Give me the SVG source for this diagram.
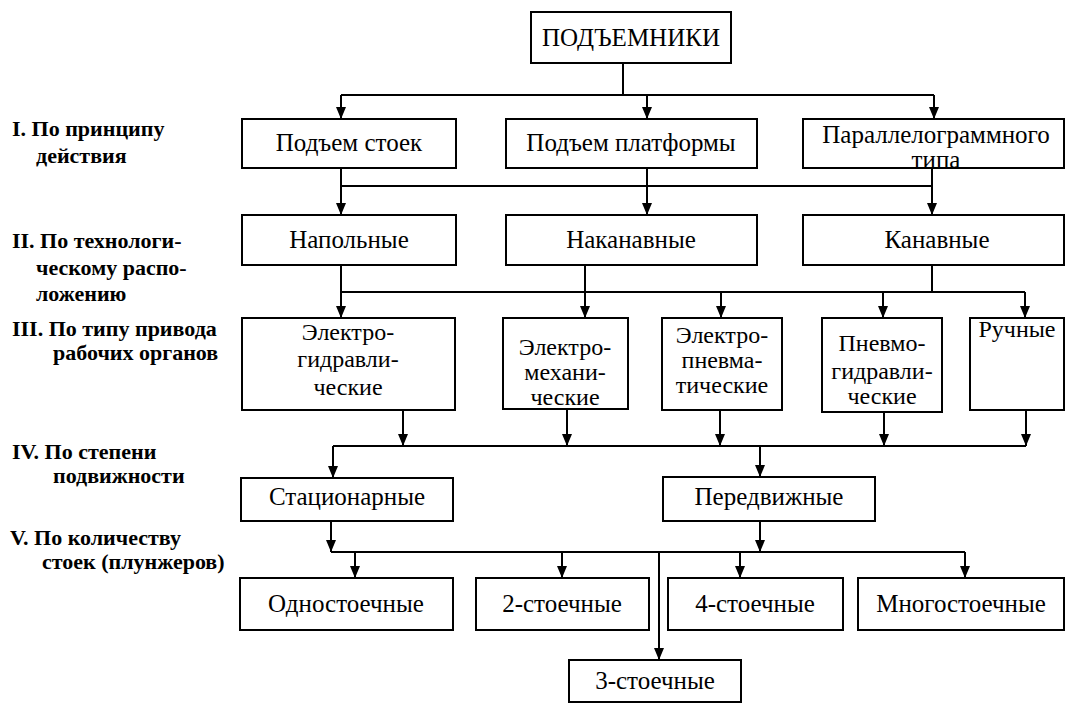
<svg xmlns="http://www.w3.org/2000/svg" width="1069" height="704" viewBox="0 0 1069 704">
<style>
.box{fill:#fff;stroke:#000;stroke-width:2}
.t{font-family:"Liberation Serif","DejaVu Serif","Times New Roman",serif;font-size:25px;fill:#000;text-anchor:middle}
.s{font-size:24px}
.lbl{font-family:"Liberation Serif","DejaVu Serif","Times New Roman",serif;font-size:22px;font-weight:bold;fill:#000}
.c{fill:none;stroke:#000;stroke-width:2}
</style>
<defs>
<marker id="ah" viewBox="0 0 12 10" refX="12" refY="5" markerWidth="12" markerHeight="10" markerUnits="userSpaceOnUse" orient="auto">
<path d="M0,0 L12,5 L0,10 Z" fill="#000"/>
</marker>
</defs>
<rect width="1069" height="704" fill="#fff"/>

<g id="labels">
<text class="lbl" x="12" y="136">I. По принципу</text>
<text class="lbl" x="36" y="163">действия</text>
<text class="lbl" x="12" y="248">II. По технологи-</text>
<text class="lbl" x="36" y="275">ческому распо-</text>
<text class="lbl" x="36" y="301">ложению</text>
<text class="lbl" x="12" y="336">III. По типу привода</text>
<text class="lbl" x="53" y="360">рабочих органов</text>
<text class="lbl" x="12" y="459">IV. По степени</text>
<text class="lbl" x="53" y="483">подвижности</text>
<text class="lbl" x="10" y="545">V. По количеству</text>
<text class="lbl" x="42" y="569">стоек (плунжеров)</text>
</g>

<g id="connectors">
<path class="c" d="M623,63 V95 M341,95 H934"/>
<path class="c" d="M341,95 V119" marker-end="url(#ah)"/>
<path class="c" d="M647,95 V119" marker-end="url(#ah)"/>
<path class="c" d="M934,95 V119" marker-end="url(#ah)"/>
<path class="c" d="M341,186 H932 M647,168 V186 M932,168 V186"/>
<path class="c" d="M341,168 V215" marker-end="url(#ah)"/>
<path class="c" d="M647,186 V215" marker-end="url(#ah)"/>
<path class="c" d="M932,186 V215" marker-end="url(#ah)"/>
<path class="c" d="M341,292 H1025 M585,265 V292 M932,265 V292"/>
<path class="c" d="M341,265 V318" marker-end="url(#ah)"/>
<path class="c" d="M585,292 V318" marker-end="url(#ah)"/>
<path class="c" d="M721,292 V318" marker-end="url(#ah)"/>
<path class="c" d="M883,292 V318" marker-end="url(#ah)"/>
<path class="c" d="M1025,292 V318" marker-end="url(#ah)"/>
<path class="c" d="M333,446 H1026"/>
<path class="c" d="M403,410 V446" marker-end="url(#ah)"/>
<path class="c" d="M567,409 V446" marker-end="url(#ah)"/>
<path class="c" d="M720,410 V446" marker-end="url(#ah)"/>
<path class="c" d="M884,412 V446" marker-end="url(#ah)"/>
<path class="c" d="M1026,410 V446" marker-end="url(#ah)"/>
<path class="c" d="M333,446 V478" marker-end="url(#ah)"/>
<path class="c" d="M760,446 V477" marker-end="url(#ah)"/>
<path class="c" d="M331,552 H965"/>
<path class="c" d="M331,521 V552" marker-end="url(#ah)"/>
<path class="c" d="M760,521 V552" marker-end="url(#ah)"/>
<path class="c" d="M355,552 V578" marker-end="url(#ah)"/>
<path class="c" d="M562,552 V578" marker-end="url(#ah)"/>
<path class="c" d="M740,552 V578" marker-end="url(#ah)"/>
<path class="c" d="M965,552 V578" marker-end="url(#ah)"/>
<path class="c" d="M659,552 V660" marker-end="url(#ah)"/>
</g>

<g id="n-root"><rect class="box" x="531" y="12" width="200" height="51"/><text class="t" x="631" y="46">ПОДЪЕМНИКИ</text></g>

<g id="n-stoek"><rect class="box" x="242" y="119" width="214" height="49"/><text class="t" x="349" y="151">Подъем стоек</text></g>
<g id="n-platform"><rect class="box" x="506" y="119" width="251" height="49"/><text class="t" x="631" y="151">Подъем платформы</text></g>
<g id="n-parallel"><rect class="box" x="803" y="119" width="261" height="49"/><text class="t" x="936" y="143">Параллелограммного</text><text class="t" x="936" y="168">типа</text></g>

<g id="n-napol"><rect class="box" x="242" y="215" width="214" height="50"/><text class="t" x="349" y="248">Напольные</text></g>
<g id="n-nakan"><rect class="box" x="506" y="215" width="251" height="50"/><text class="t" x="631" y="248">Наканавные</text></g>
<g id="n-kanav"><rect class="box" x="803" y="215" width="261" height="50"/><text class="t" x="937" y="248">Канавные</text></g>

<g id="n-eg"><rect class="box" x="242" y="318" width="213" height="92"/><text class="t s" x="348" y="340">Электро-</text><text class="t s" x="348" y="367">гидравли-</text><text class="t s" x="348" y="395">ческие</text></g>
<g id="n-em"><rect class="box" x="503" y="318" width="125" height="91"/><text class="t s" x="565" y="355">Электро-</text><text class="t s" x="565" y="380">механи-</text><text class="t s" x="565" y="405">ческие</text></g>
<g id="n-ep"><rect class="box" x="662" y="318" width="120" height="92"/><text class="t s" x="722" y="343">Электро-</text><text class="t s" x="722" y="368">пневма-</text><text class="t s" x="722" y="393">тические</text></g>
<g id="n-pg"><rect class="box" x="822" y="318" width="120" height="94"/><text class="t s" x="882" y="351">Пневмо-</text><text class="t s" x="882" y="379">гидравли-</text><text class="t s" x="882" y="404">ческие</text></g>
<g id="n-hand"><rect class="box" x="970" y="318" width="94" height="92"/><text class="t s" x="1017" y="337">Ручные</text></g>

<g id="n-stat"><rect class="box" x="241" y="478" width="212" height="43"/><text class="t" x="347" y="505">Стационарные</text></g>
<g id="n-mob"><rect class="box" x="663" y="477" width="212" height="44"/><text class="t" x="769" y="505">Передвижные</text></g>

<g id="n-1"><rect class="box" x="240" y="578" width="213" height="52"/><text class="t" x="346" y="612">Одностоечные</text></g>
<g id="n-2"><rect class="box" x="476" y="578" width="173" height="52"/><text class="t" x="562" y="612">2-стоечные</text></g>
<g id="n-4"><rect class="box" x="668" y="578" width="175" height="52"/><text class="t" x="755" y="612">4-стоечные</text></g>
<g id="n-many"><rect class="box" x="858" y="578" width="206" height="52"/><text class="t" x="961" y="612">Многостоечные</text></g>
<g id="n-3"><rect class="box" x="569" y="660" width="172" height="42"/><text class="t" x="655" y="689">3-стоечные</text></g>
</svg>
